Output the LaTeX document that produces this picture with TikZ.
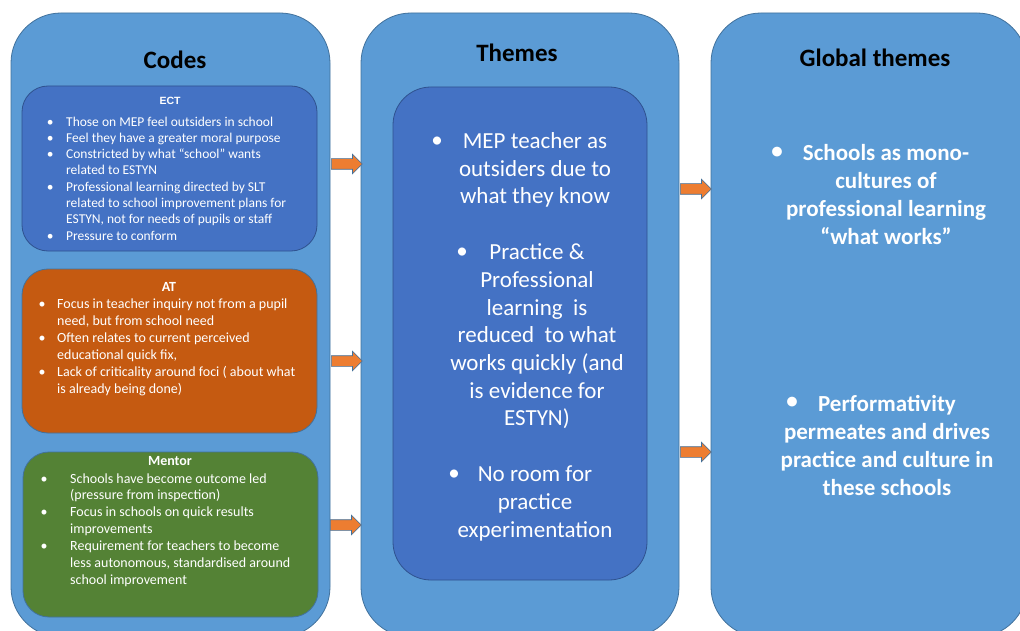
\documentclass[tikz,border=0pt]{standalone}
\usepackage{fontspec}
\setmainfont{Carlito}
\newfontfamily\arialfont{Liberation Sans}
\usetikzlibrary{shapes.arrows}

\definecolor{colfill}{HTML}{5B9BD5}
\definecolor{colline}{HTML}{41719C}
\definecolor{ectblue}{HTML}{4472C4}
\definecolor{ectline}{HTML}{2F528F}
\definecolor{atorange}{HTML}{C55A11}
\definecolor{mentorgreen}{HTML}{548235}
\definecolor{arrowfill}{HTML}{ED7D31}

% bullet line helpers
\newcommand{\bl}[2]{\makebox[#1][l]{\textbullet}#2}
\newcommand{\cl}[2]{\hspace*{#1}#2}

\begin{document}
\begin{tikzpicture}[x=1pt,y=-1pt,
  column/.style={draw=colline, fill=colfill, line width=0.8pt, rounded corners=50pt, inner sep=0pt},
  codebox/.style={draw=ectline, line width=0.8pt, rounded corners=26pt, inner sep=0pt,
    minimum width=295pt, minimum height=165pt},
  header/.style={font=\fontsize{25}{30}\selectfont\bfseries, text=black, inner sep=0pt},
  boxtitle/.style={font=\fontsize{13.5}{16}\selectfont\bfseries, text=white, inner sep=0pt},
  codetext/.style={align=left, text=white, inner sep=0pt, anchor=west},
  themetext/.style={align=center, text=white, inner sep=0pt,
    font=\fontsize{23}{27.7}\selectfont},
  globaltext/.style={align=center, text=white, inner sep=0pt,
    font=\fontsize{23}{28}\selectfont\bfseries},
  bulletmark/.style={text=white, inner sep=0pt},
  blockarrow/.style={single arrow, draw=colline, fill=arrowfill, line width=0.6pt,
    minimum height=31pt, inner xsep=0pt, inner ysep=5pt, single arrow head extend=4.5pt,
    anchor=west}
]
\useasboundingbox (0,0) rectangle (1020,631);
\clip (0,0) rectangle (1020,631);

% three columns
\node[column, minimum width=319pt, minimum height=624pt] (codes) at (170.5,325) {};
\node[column, minimum width=318pt, minimum height=624pt] (themes) at (520,325) {};
\node[column, minimum width=316pt, minimum height=624pt] (global) at (869,325) {};

\node[header] (codesT) at (175,60) {Codes};
\node[header] (themesT) at (517,53) {Themes};
\node[header] (globalT) at (875,58) {Global themes};

% code boxes
\node[codebox, fill=ectblue] (ect) at (169.5,168.5) {};
\node[codebox, fill=atorange, draw=colline, minimum height=164pt] (at) at (169.5,351) {};
\node[codebox, fill=mentorgreen, draw=colline] (mentor) at (170.5,534.5) {};

\node[font=\arialfont\fontsize{10.5}{12}\selectfont\bfseries, text=white, inner sep=0pt] (ectT) at (170,101) {ECT};
\node[codetext, font=\fontsize{13.5}{16.3}\selectfont] (ectL) at (46.6,178.5) {%
  \bl{19.4pt}{Those on MEP feel outsiders in school}\\
  \bl{19.4pt}{Feel they have a greater moral purpose}\\
  \bl{19.4pt}{Constricted by what “school” wants}\\
  \cl{19.4pt}{related to ESTYN}\\
  \bl{19.4pt}{Professional learning directed by SLT}\\
  \cl{19.4pt}{related to school improvement plans for}\\
  \cl{19.4pt}{ESTYN, not for needs of pupils or staff}\\
  \bl{19.4pt}{Pressure to conform}};

\node[boxtitle, font=\fontsize{14}{17}\selectfont\bfseries] (atT) at (169,287) {AT};
\node[codetext, font=\fontsize{14}{17}\selectfont] (atL) at (38.5,347) {%
  \bl{18.5pt}{Focus in teacher inquiry not from a pupil}\\
  \cl{18.5pt}{need, but from school need}\\
  \bl{18.5pt}{Often relates to current perceived}\\
  \cl{18.5pt}{educational quick fix,}\\
  \bl{18.5pt}{Lack of criticality around foci ( about what}\\
  \cl{18.5pt}{is already being done)}};

\node[boxtitle, font=\fontsize{14}{17}\selectfont\bfseries] (mentorT) at (170,461) {Mentor};
\node[codetext, font=\fontsize{14}{16.9}\selectfont] (mentorL) at (40.5,530) {%
  \bl{29.5pt}{Schools have become outcome led}\\
  \cl{29.5pt}{(pressure from inspection)}\\
  \bl{29.5pt}{Focus in schools on quick results}\\
  \cl{29.5pt}{improvements}\\
  \bl{29.5pt}{Requirement for teachers to become}\\
  \cl{29.5pt}{less autonomous, standardised around}\\
  \cl{29.5pt}{school improvement}};

% themes box
\node[draw=ectline, fill=ectblue, line width=0.8pt, rounded corners=38pt, inner sep=0pt,
  minimum width=254pt, minimum height=493pt] (themebox) at (520,333.5) {};

\node[themetext] (th1) at (535,170) {MEP teacher as\\outsiders due to\\what they know};
\node[bulletmark, font=\fontsize{23}{27.7}\selectfont] (th1b) at (437,142.5) {\textbullet};
\node[themetext] (th2) at (537,336.5) {Practice \&\\Professional\\learning\ \ is\\reduced\ \ to what\\works quickly (and\\is evidence for\\ESTYN)};
\node[bulletmark, font=\fontsize{23}{27.7}\selectfont] (th2b) at (462,253.5) {\textbullet};
\node[themetext] (th3) at (535,503.5) {No room for\\practice\\experimentation};
\node[bulletmark, font=\fontsize{23}{27.7}\selectfont] (th3b) at (454,475.5) {\textbullet};

% global themes
\node[globaltext] (gl1) at (886,195) {Schools as mono-\\cultures of\\professional learning\\“what works”};
\node[bulletmark, font=\fontsize{23}{28}\selectfont\bfseries] (gl1b) at (777,153) {\textbullet};
\node[globaltext] (gl2) at (887,445) {Performativity\\permeates and drives\\practice and culture in\\these schools};
\node[bulletmark, font=\fontsize{23}{28}\selectfont\bfseries] (gl2b) at (792,403) {\textbullet};

% block arrows between the columns
\node[blockarrow] (arr1) at (331,164) {};
\node[blockarrow] (arr2) at (331,361) {};
\node[blockarrow] (arr3) at (330,525) {};
\node[blockarrow] (arr4) at (680,189) {};
\node[blockarrow] (arr5) at (680,452) {};
\end{tikzpicture}
\end{document}
